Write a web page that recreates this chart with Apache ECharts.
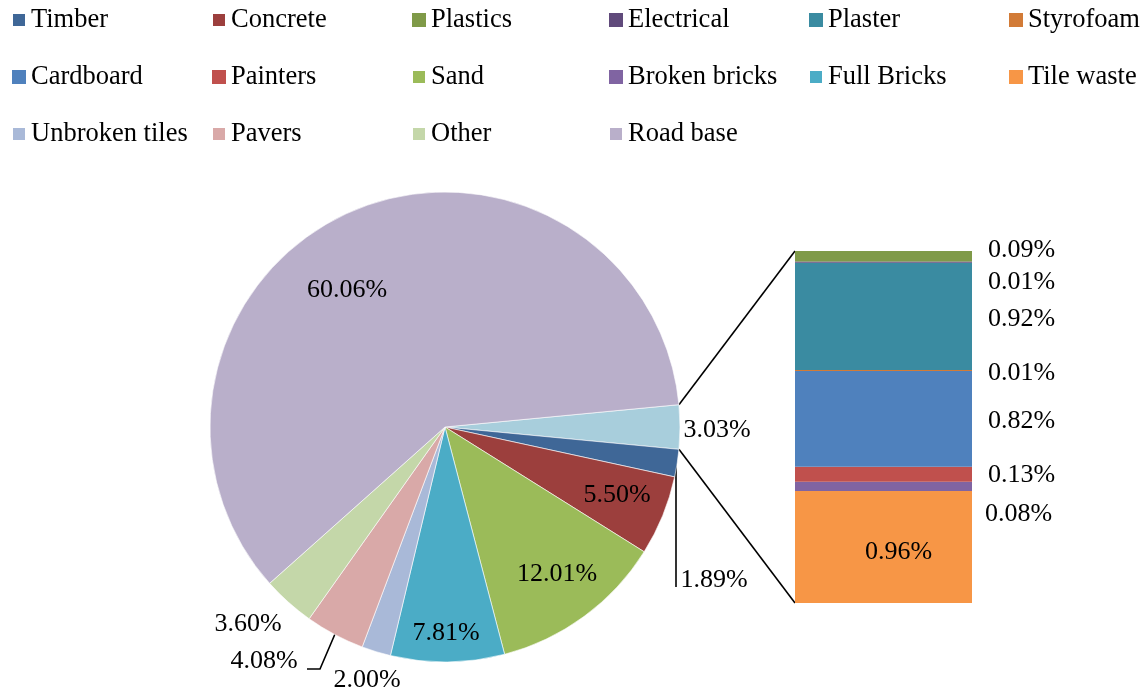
<!DOCTYPE html>
<html>
<head>
<meta charset="utf-8">
<script src="https://cdn.jsdelivr.net/npm/echarts@6.0.0/dist/echarts.min.js"></script>
<style>
    html, body { margin: 0; padding: 0; background: #fff; }
    #main { width: 1143px; height: 693px; }
</style>
</head>
<body>
<div id="main"></div>
<script>
// pie slices, clockwise from the split-off slice
const pieNames = ['Minor streams', 'Timber', 'Concrete', 'Sand', 'Full Bricks', 'Unbroken tiles', 'Pavers', 'Other', 'Road base'];
const pieValues = [3.03, 1.89, 5.50, 12.01, 7.81, 2.00, 4.08, 3.60, 60.06];
// stacked bar, bottom to top
const barNames = ['Tile waste', 'Broken bricks', 'Painters', 'Cardboard', 'Styrofoam', 'Plaster', 'Electrical', 'Plastics'];
const barValues = [0.96, 0.08, 0.13, 0.82, 0.01, 0.92, 0.01, 0.09];
// legend order
const legendNames = ['Timber', 'Concrete', 'Plastics', 'Electrical', 'Plaster', 'Styrofoam',
    'Cardboard', 'Painters', 'Sand', 'Broken bricks', 'Full Bricks', 'Tile waste',
    'Unbroken tiles', 'Pavers', 'Other', 'Road base'];

const colors = {
    'Minor streams': '#A8CEDC',
    'Timber': '#3F6797',
    'Concrete': '#9C3F3D',
    'Plastics': '#7F9A48',
    'Electrical': '#604A7B',
    'Plaster': '#3A8BA1',
    'Styrofoam': '#D27B37',
    'Cardboard': '#4F81BD',
    'Painters': '#C0504D',
    'Sand': '#9BBB59',
    'Broken bricks': '#8064A2',
    'Full Bricks': '#4BACC6',
    'Tile waste': '#F79646',
    'Unbroken tiles': '#A9B9D8',
    'Pavers': '#D9A9A8',
    'Other': '#C4D7A9',
    'Road base': '#B9AFCA'
};

const font = 'Liberation Serif';
const cx = 445, cy = 427, r = 235;
const barLeft = 795, barTop = 251, barW = 177, barH = 352;

// label placement (Excel moved several labels around)
const pieLabelPos = {
    'Minor streams': [717, 430],
    'Timber': [714, 580],
    'Concrete': [617, 495],
    'Sand': [557, 574],
    'Full Bricks': [446, 633],
    'Unbroken tiles': [367, 680],
    'Pavers': [264, 661],
    'Other': [248, 624],
    'Road base': [347, 290]
};
const pieLeader = {
    'Timber': [[676, 463], [676, 525], [676, 587]],
    'Pavers': [[335, 634], [320, 669], [307, 669]]
};
const barLabelOffset = {
    'Plastics': [0, -6], 'Electrical': [0, 20], 'Plaster': [0, 3], 'Styrofoam': [0, 3],
    'Cardboard': [0, 2], 'Painters': [0, 1], 'Broken bricks': [-3, 28], 'Tile waste': [15, 5]
};

const pieTotal = pieValues.reduce((a, b) => a + b, 0);
const startAngle = 180 * pieValues[0] / pieTotal;
const barTotal = barValues.reduce((a, b) => a + b, 0);

const pct = v => v.toFixed(2) + '%';

// legend columns
const columns = [12, 212, 412, 609, 809, 1010];
const legends = columns.map((x, c) => ({
    orient: 'vertical',
    left: x - 1,
    top: 6,
    padding: 0,
    itemWidth: 14,
    itemHeight: 14,
    itemGap: 29,
    icon: 'rect',
    selectedMode: false,
    data: legendNames.filter((n, i) => i % 6 === c),
    textStyle: { fontFamily: font, fontSize: 26.5, lineHeight: 28, color: '#000', padding: [0, 0, 0, 0] }
}));

const barSeries = barNames.map((name, i) => ({
    name: name,
    type: 'bar',
    stack: 'minor',
    barWidth: '100%',
    xAxisIndex: 0,
    yAxisIndex: 0,
    itemStyle: { color: colors[name] },
    label: {
        show: true,
        position: name === 'Tile waste' ? 'inside' : 'right',
        distance: 16,
        offset: barLabelOffset[name],
        fontFamily: font,
        fontSize: 26,
        color: '#000',
        formatter: p => pct(p.value)
    },
    data: [barValues[i]]
}));

const a = startAngle * Math.PI / 180;
const edgeTop = [cx + r * Math.cos(a), cy - r * Math.sin(a)];
const edgeBot = [cx + r * Math.cos(a), cy + r * Math.sin(a)];

var myChart = echarts.init(document.getElementById('main'));
myChart.setOption({
    backgroundColor: '#fff',
    animation: false,
    legend: legends,
    grid: { left: barLeft, top: barTop, width: barW, height: barH },
    xAxis: { type: 'category', data: ['minor'], show: false },
    yAxis: { type: 'value', min: 0, max: barTotal, show: false },
    series: [
        {
            name: 'Waste',
            type: 'pie',
            center: [cx, cy],
            radius: r,
            startAngle: startAngle,
            clockwise: true,
            avoidLabelOverlap: false,
            itemStyle: { borderColor: '#fff', borderWidth: 0.6 },
            label: {
                show: true,
                position: 'outside',
                fontFamily: font,
                fontSize: 26,
                color: '#000',
                formatter: p => pct(p.value)
            },
            labelLine: { show: false, lineStyle: { color: '#000', width: 1.6 } },
            labelLayout: function (params) {
                const name = pieNames[params.dataIndex];
                const pos = pieLabelPos[name];
                const out = { x: pos[0], y: pos[1], align: 'center', verticalAlign: 'middle' };
                if (pieLeader[name]) out.labelLinePoints = pieLeader[name];
                return out;
            },
            data: pieNames.map((name, i) => ({
                name: name,
                value: pieValues[i],
                itemStyle: { color: colors[name] },
                labelLine: { show: !!pieLeader[name] }
            }))
        }
    ].concat(barSeries),
    graphic: [
        {
            type: 'line',
            shape: { x1: edgeTop[0], y1: edgeTop[1], x2: barLeft, y2: barTop },
            style: { stroke: '#000', lineWidth: 1.6 }
        },
        {
            type: 'line',
            shape: { x1: edgeBot[0], y1: edgeBot[1], x2: barLeft, y2: barTop + barH },
            style: { stroke: '#000', lineWidth: 1.6 }
        }
    ]
});
</script>
</body>
</html>
